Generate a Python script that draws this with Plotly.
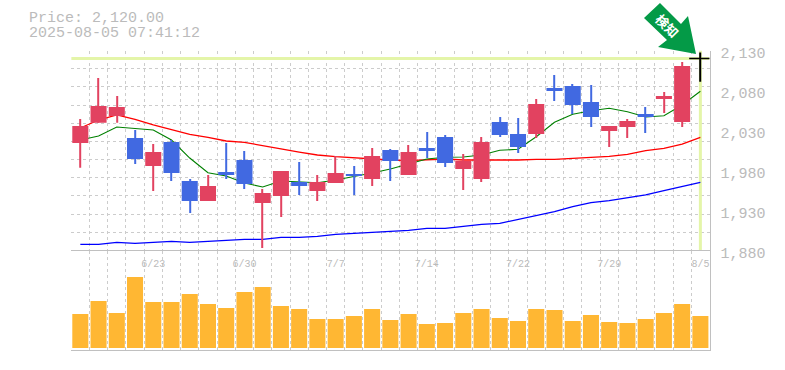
import plotly.graph_objects as go

W, H = 785, 370
dates = ["6/17","6/18","6/19","6/20","6/23","6/24","6/25","6/26","6/27","6/30","7/1","7/2","7/3","7/4","7/7","7/8","7/9","7/10","7/11","7/14","7/15","7/16","7/17","7/18","7/22","7/23","7/24","7/25","7/28","7/29","7/30","7/31","8/1","8/4","8/5"]
high = [2044.4,2095.6,2073.1,2030.6,2013.1,2018.1,1969.4,1974.4,2014.4,2004.4,1956.9,1979.4,1990.6,1974.4,1998.1,1985.6,2008.1,2006.9,2011.9,2028.1,2024.4,2000.6,2021.9,2046.9,2045.6,2069.4,2099.4,2088.1,2086.9,2035.6,2044.4,2059.4,2078.1,2115.6,2127.5]
body_top = [2035.6,2060.6,2059.4,2020.6,2003.1,2015.6,1966.9,1960.6,1978.1,1993.1,1951.9,1979.4,1965.6,1965.6,1976.9,1975.6,1998.1,2005.6,2003.1,2008.1,2021.9,1991.9,2015.6,2040.6,2025.6,2063.1,2083.1,2085.6,2065.6,2035.6,2041.9,2050.6,2073.1,2110.6,2120]
body_bottom = [2014.4,2039.75,2048.1,1994.4,1985.6,1976.9,1941.9,1941.9,1974.4,1963.1,1939.4,1948.1,1960.6,1954.4,1964.4,1973.1,1969.4,1991.9,1974.4,2004.4,1989.4,1981.9,1969.4,2024.4,2009.4,2025.6,2079.4,2061.9,2046.9,2029.4,2034.4,2046.9,2069.4,2040.6,2120]
low = [1983.5,2039.75,2039.75,1988.1,1954.4,1966.9,1926.9,1941.9,1969.4,1956.9,1883.1,1921.9,1949.4,1941.9,1964.4,1949.4,1960.6,1966.9,1974.4,1995.6,1984.4,1955.6,1965.6,2021.9,2001.9,2020.6,2066.9,2050.6,2034.4,2009.4,2020.6,2026.9,2051.9,2034.4,2091]
direction = ["R","R","R","B","R","B","B","R","B","B","R","R","B","R","R","B","R","B","R","B","B","R","R","B","B","R","B","B","B","R","R","B","R","R","K"]
ma_short = [2018.1,2023.1,2034.4,2032.75,2030.6,2018.1,1995.6,1977.2,1973.1,1964.4,1959.4,1966.9,1966,1964.75,1968.1,1972.25,1976.9,1981.9,1988.1,1994.4,1996.5,1996.9,1999.4,2005.25,2006.5,2022.25,2040.25,2050.25,2054.75,2057.75,2053.5,2046.9,2048.5,2061.9,2079]
ma_mid = [2033.1,2043.1,2049.4,2044,2036.9,2031.5,2025.25,2021.5,2016.9,2015.25,2010.6,2006.9,2003.1,1999.4,1997.25,1995.6,1994.4,1993.1,1992.25,1993.5,1994.4,1993.1,1993.1,1992.75,1993.1,1994,1994,1995.25,1996.5,1997.75,2000.25,2004.75,2007.75,2013.1,2021.5]
ma_long = [1887.75,1887.75,1890.25,1889,1890.25,1891.5,1890.25,1891.5,1892.75,1894,1894,1896.5,1896.5,1897.75,1900.25,1901.5,1902.75,1904,1905.25,1907.75,1907.75,1910.25,1912.75,1914,1919,1923.1,1928.5,1934.75,1939.75,1942.25,1946,1949.4,1954.75,1959.75,1965.25]
volume = [34000,47000,35000,71000,46000,46000,54000,44000,40000,56000,61000,42000,39000,29000,29000,32000,39000,28000,34000,24000,25000,35000,39000,30000,27000,39000,38000,27000,33000,26000,25000,29000,35000,44000,32000]
last_price = 2120
price_ticks = [1880,1930,1980,2030,2080,2130]
label_dates = ["6/23","6/30","7/7","7/14","7/22","7/29","8/5"]

RED, BLUE, GRID, FRAME, TXT = "#e24260", "#4169e1", "#cccccc", "#c0c0c0", "#bbbbbb"
YELLOW, ORANGE, GREEN = "#e4f5a9", "#ffb733", "#049a47"
MONO = "Liberation Mono, DejaVu Sans Mono, monospace"
DASH = "3px,3px"

idx = list(range(len(dates)))
palette = {"R": RED, "B": BLUE, "K": "#000000"}
colors = [palette[d] for d in direction]
body_x = idx[:-1]

fig = go.Figure()
fig.add_trace(go.Scatter(x=[-0.5, 34.5], y=[last_price, last_price], mode="lines", line=dict(color=YELLOW, width=3), xaxis="x", yaxis="y"))
fig.add_trace(go.Scatter(x=[idx[-1], idx[-1]], y=[2130, 1880], mode="lines", line=dict(color=YELLOW, width=3), xaxis="x", yaxis="y"))
fig.add_trace(go.Scatter(x=idx, y=ma_long, mode="lines", line=dict(color="#0000ff", width=1.3), xaxis="x", yaxis="y"))
fig.add_trace(go.Scatter(x=idx, y=ma_mid, mode="lines", line=dict(color="#ff0000", width=1.3), xaxis="x", yaxis="y"))
fig.add_trace(go.Scatter(x=idx, y=ma_short, mode="lines", line=dict(color="#008000", width=1.1), xaxis="x", yaxis="y"))
fig.add_trace(go.Bar(x=idx, base=low, y=[h - l for h, l in zip(high, low)], width=0.058,
                     marker=dict(color=colors, line=dict(width=0)), xaxis="x", yaxis="y3"))
fig.add_trace(go.Bar(x=body_x, base=body_bottom[:-1], y=[t - b for t, b in zip(body_top[:-1], body_bottom[:-1])], width=0.88,
                     marker=dict(color=colors[:-1], line=dict(width=0)), xaxis="x", yaxis="y3"))
fig.add_trace(go.Scatter(x=[idx[-1]], y=[last_price], mode="markers",
                         marker=dict(symbol="line-ew", size=16, line=dict(color="#000000", width=1.3)), xaxis="x", yaxis="y3"))
# an unpainted trace keeps the lower panel's base subplot (and its vertical grid) alive
fig.add_trace(go.Scatter(x=idx, y=volume, mode="none", xaxis="x2", yaxis="y2", hoverinfo="skip"))
fig.add_trace(go.Bar(x=idx, y=volume, width=0.88, marker=dict(color=ORANGE, line=dict(width=0)), xaxis="x3", yaxis="y2"))

dom_x = [71.2 / W, 709.5 / W]
dom_price = [1 - 250.5 / H, 1 - 50.5 / H]
dom_vol = [1 - 349.5 / H, 1 - 250.5 / H]
bounds = [i - 0.5 for i in range(36)]
xr = [-0.5, 34.5]

fig.update_layout(
    width=W, height=H, margin=dict(l=0, r=0, t=0, b=0, autoexpand=False),
    paper_bgcolor="#ffffff", plot_bgcolor="#ffffff", showlegend=False, barmode="overlay",
    font=dict(family=MONO, color=TXT),
    xaxis=dict(domain=dom_x, range=xr, anchor="y", tickmode="array", tickvals=bounds, showticklabels=False, ticks="",
               showgrid=True, gridcolor=GRID, griddash=DASH, gridwidth=1, zeroline=False),
    yaxis=dict(domain=dom_price, range=[1880, 2130], anchor="x", tick0=1880, dtick=250 / 11, showticklabels=False, ticks="",
               showgrid=True, gridcolor=GRID, griddash=DASH, gridwidth=1, zeroline=False),
    yaxis3=dict(overlaying="y", range=[1880, 2130], anchor="x", side="right", tickmode="array", tickvals=price_ticks,
                tickformat=",d", showgrid=False, zeroline=False, ticks="", showline=True, linecolor=FRAME, linewidth=1,
                ticklabelstandoff=7, ticklabelshift=2, tickfont=dict(family=MONO, size=15, color=TXT)),
    xaxis2=dict(domain=dom_x, range=xr, anchor="y2", tickmode="array", tickvals=bounds, showticklabels=False, ticks="",
                showgrid=True, gridcolor=GRID, griddash=DASH, gridwidth=1, zeroline=False,
                showline=True, linecolor=FRAME, linewidth=1),
    xaxis3=dict(domain=dom_x, overlaying="x2", range=xr, anchor="y2", side="top", tickmode="array",
                tickvals=[dates.index(d) for d in label_dates], ticktext=label_dates, ticks="", showgrid=False, zeroline=False,
                ticklabelposition="inside", ticklabelstandoff=8, showline=True, linecolor=FRAME, linewidth=1,
                tickfont=dict(family=MONO, size=10, color=TXT)),
    yaxis2=dict(domain=dom_vol, range=[-1500, 97500], anchor="x2", side="right", showticklabels=False, ticks="",
                showgrid=False, zeroline=False, showline=True, linecolor=FRAME, linewidth=1),
    shapes=[dict(type="path", xref="paper", yref="paper", layer="above", line=dict(width=0), fillcolor=GREEN,
                 path="M %f,%f L %f,%f L %f,%f L %f,%f L %f,%f L %f,%f L %f,%f Z" % tuple(
                     v for px, py in [(660, 3), (681, 24), (688, 16), (696, 54), (658, 47), (667, 40), (644, 18)]
                     for v in (px / W, 1 - py / H)))],
    annotations=[
        dict(text="Price: 2,120.00", xref="paper", yref="paper", x=28 / W, y=1 - 18.5 / H, xanchor="left", yanchor="middle",
             borderpad=0, showarrow=False, font=dict(family=MONO, size=15, color=TXT)),
        dict(text="2025-08-05 07:41:12", xref="paper", yref="paper", x=28 / W, y=1 - 33.5 / H, xanchor="left", yanchor="middle",
             borderpad=0, showarrow=False, font=dict(family=MONO, size=15, color=TXT)),
        dict(text="<b>検知</b>", xref="paper", yref="paper", x=667 / W, y=1 - 26 / H, textangle=45, xanchor="center", yanchor="middle",
             showarrow=False, font=dict(family="Noto Sans CJK JP", size=13, color="#ffffff")),
    ],
)

fig.write_html("out.html", config=dict(displayModeBar=False),
               post_script="document.body.style.margin='0';document.body.style.overflow='hidden';")
